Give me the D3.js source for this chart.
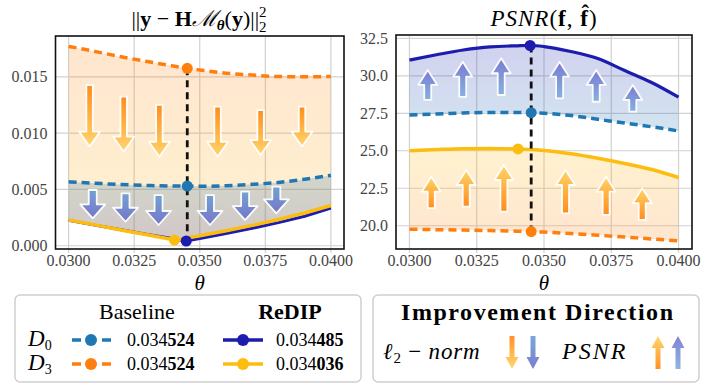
<!DOCTYPE html>
<html>
<head>
<meta charset="utf-8">
<script src="https://cdn.jsdelivr.net/npm/d3@7"></script>
<style>
  body { margin: 0; background: #fff; }
</style>
</head>
<body>
<div id="chart"></div>
<script>
// theta grid shared by every curve
const theta = [0.030, 0.031, 0.032, 0.033, 0.034, 0.035, 0.036, 0.037, 0.038, 0.039, 0.040];

// l2 residual norm
const l2BaseD0  = [0.00568, 0.00555, 0.00543, 0.00535, 0.00530, 0.00528, 0.00533, 0.00545, 0.00562, 0.00590, 0.00625];
const l2BaseD3  = [0.01770, 0.01725, 0.01678, 0.01635, 0.01595, 0.01560, 0.01532, 0.01515, 0.01502, 0.01500, 0.01502];
const l2RedipD0 = [0.00225, 0.00183, 0.00142, 0.00100, 0.00062, 0.00065, 0.00108, 0.00155, 0.00205, 0.00262, 0.00335];
const l2RedipD3 = [0.00228, 0.00185, 0.00140, 0.00098, 0.00053, 0.00088, 0.00133, 0.00181, 0.00233, 0.00291, 0.00357];

// PSNR
const psnrBaseD0  = [27.38, 27.45, 27.52, 27.56, 27.56, 27.50, 27.35, 27.10, 26.85, 26.60, 26.32];
const psnrBaseD3  = [19.77, 19.74, 19.71, 19.68, 19.64, 19.58, 19.48, 19.37, 19.25, 19.12, 18.99];
const psnrRedipD0 = [31.05, 31.40, 31.72, 31.93, 32.00, 31.95, 31.62, 31.15, 30.35, 29.55, 28.57];
const psnrRedipD3 = [25.00, 25.08, 25.14, 25.15, 25.12, 25.02, 24.80, 24.50, 24.15, 23.75, 23.22];

// selected theta per method: baseline D0, baseline D3, ReDIP D0, ReDIP D3
const bestTheta = [0.034524, 0.034524, 0.034485, 0.034036];
const bestL2    = [0.00530, 0.01575, 0.00042, 0.00050];
const bestPsnr  = [27.54, 19.61, 32.02, 25.12];

const thetaTicks = [0.0300, 0.0325, 0.0350, 0.0375, 0.0400];
const l2Ticks    = [0.000, 0.005, 0.010, 0.015];
const psnrTicks  = [20.0, 22.5, 25.0, 27.5, 30.0, 32.5];

// improvement arrows: [theta, tail, tip]
const l2ArrowsD3 = [[0.0308, 0.01427, 0.0088], [0.0321, 0.01323, 0.00835], [0.03346, 0.0125, 0.0079],
                    [0.03568, 0.01235, 0.0079], [0.03732, 0.01205, 0.00805], [0.0389, 0.01235, 0.0088]];
const l2ArrowsD0 = [[0.03092, 0.00495, 0.00243], [0.03217, 0.00465, 0.00213], [0.03343, 0.0045, 0.00184],
                    [0.03539, 0.0045, 0.00184], [0.03673, 0.0048, 0.00228], [0.03792, 0.00524, 0.00288]];
const psnrArrowsD0 = [[0.03068, 28.39, 30.39], [0.03198, 28.6, 30.94], [0.03341, 28.72, 31.17],
                      [0.03558, 28.5, 30.94], [0.03694, 28.27, 30.39], [0.0383, 27.61, 29.39]];
const psnrArrowsD3 = [[0.03081, 21.17, 23.27], [0.03211, 21.27, 23.72], [0.03351, 20.94, 24.05],
                      [0.0358, 20.83, 23.72], [0.03731, 20.72, 23.27], [0.03865, 20.39, 22.5]];

const cBaseD0 = "#1f77b4", cBaseD3 = "#ff7f0e", cRedipD0 = "#1c1cae", cRedipD3 = "#fdbd0f";
const serif = "'Liberation Serif', 'DejaVu Serif', serif";

const svg = d3.select("#chart").append("svg")
  .attr("width", 720).attr("height", 386)
  .attr("font-family", serif);
const defs = svg.append("defs");

function grad(id, top, bottom, op) {
  const g = defs.append("linearGradient").attr("id", id)
    .attr("x1", 0).attr("y1", 0).attr("x2", 0).attr("y2", 1);
  g.append("stop").attr("offset", "0%").attr("stop-color", top).attr("stop-opacity", op);
  g.append("stop").attr("offset", "100%").attr("stop-color", bottom).attr("stop-opacity", op);
}
grad("fillL2D3", cBaseD3, cRedipD3, 0.2);
grad("fillL2D0", cBaseD0, cRedipD0, 0.2);
grad("fillPsD0", cRedipD0, cBaseD0, 0.2);
grad("fillPsD3", cRedipD3, cBaseD3, 0.2);
grad("arrOrDown", "#ff860a", "#ffd466", 1);
grad("arrBlDown", "#6c9ed2", "#6f6fcc", 1);
grad("arrBlUp", "#7474d0", "#80aede", 1);
grad("arrOrUp", "#ffd25e", "#ff850c", 1);

function pts(vals, i, best) {
  return theta.map((t, k) => [t, vals[k]]).concat([[bestTheta[i], best[i]]])
    .sort((a, b) => a[0] - b[0]);
}

function arrowPath(x, y0, y1, sw, hw, hl) {
  const s = y1 > y0 ? 1 : -1, yh = y1 - s * hl;
  return `M${x - sw / 2},${y0}L${x + sw / 2},${y0}L${x + sw / 2},${yh}L${x + hw / 2},${yh}` +
         `L${x},${y1}L${x - hw / 2},${yh}L${x - sw / 2},${yh}Z`;
}

function panel(cfg) {
  const x = d3.scaleLinear().domain([0.0295, 0.0405]).range(cfg.xr);
  const y = d3.scaleLinear().domain(cfg.yd).range([249, cfg.top]);
  const g = svg.append("g");

  // grid
  g.selectAll(".gx").data(thetaTicks).enter().append("line")
    .attr("x1", d => x(d)).attr("x2", d => x(d)).attr("y1", cfg.top).attr("y2", 253)
    .attr("stroke", "#d2d2d2").attr("stroke-width", 1.2);
  g.selectAll(".gy").data(cfg.ticks).enter().append("line")
    .attr("x1", cfg.xr[0]).attr("x2", cfg.xr[1]).attr("y1", d => y(d)).attr("y2", d => y(d))
    .attr("stroke", "#d2d2d2").attr("stroke-width", 1.2);

  // tick labels
  g.selectAll(".tx").data(thetaTicks).enter().append("text")
    .attr("x", d => x(d)).attr("y", 266).attr("text-anchor", "middle")
    .attr("font-size", 16).attr("fill", "#444").text(d => d.toFixed(4));
  g.selectAll(".ty").data(cfg.ticks).enter().append("text")
    .attr("x", cfg.xr[0] - 8).attr("y", d => y(d)).attr("dy", "0.35em").attr("text-anchor", "end")
    .attr("font-size", 16).attr("fill", "#444").text(cfg.fmt);

  const lin = d3.line().x(d => x(d[0])).y(d => y(d[1]));
  const smooth = d3.line().x(d => x(d[0])).y(d => y(d[1])).curve(d3.curveMonotoneX);

  // shaded improvement bands
  cfg.bands.forEach(b => {
    g.append("path").attr("d", lin(b.a.concat(b.b.slice().reverse())) + "Z")
      .attr("fill", `url(#${b.fill})`);
  });

  // arrows
  cfg.arrows.forEach(a => {
    g.selectAll(null).data(a.data).enter().append("path")
      .attr("d", d => arrowPath(x(d[0]), y(d[1]), y(d[2]), a.sw, a.hw, a.hl))
      .attr("fill", `url(#${a.fill})`).attr("stroke", "#fff").attr("stroke-width", 1.8)
      .attr("stroke-linejoin", "round").attr("opacity", 0.92);
  });

  // curves
  cfg.lines.forEach(l => {
    g.append("path").attr("d", (l.linear ? lin : smooth)(l.data))
      .attr("fill", "none").attr("stroke", l.color).attr("stroke-width", l.w)
      .attr("stroke-dasharray", l.dash || null);
  });

  // vertical marker at the baseline theta
  const vs = cfg.best;
  g.append("line")
    .attr("x1", x(bestTheta[0])).attr("x2", x(bestTheta[0]))
    .attr("y1", y(d3.max(vs))).attr("y2", y(d3.min(vs)))
    .attr("stroke", "#111").attr("stroke-width", 2.8).attr("stroke-dasharray", "7,5");

  const dotColors = [cBaseD0, cBaseD3, cRedipD0, cRedipD3];
  g.selectAll(".dot").data(vs).enter().append("circle")
    .attr("cx", (d, i) => x(bestTheta[i])).attr("cy", d => y(d)).attr("r", 5.5)
    .attr("fill", (d, i) => dotColors[i]);

  // frame
  g.append("rect").attr("x", cfg.xr[0]).attr("y", cfg.top)
    .attr("width", cfg.xr[1] - cfg.xr[0]).attr("height", 249 - cfg.top)
    .attr("fill", "none").attr("stroke", "#111").attr("stroke-width", 1.6);

  // x label
  g.append("text").attr("x", (cfg.xr[0] + cfg.xr[1]) / 2).attr("y", 290)
    .attr("text-anchor", "middle").attr("font-size", 21).attr("font-style", "italic").text("θ");
  return g;
}

// ---- left: l2 norm
const l2D0b = pts(l2BaseD0, 0, bestL2), l2D3b = pts(l2BaseD3, 1, bestL2);
const l2D0r = pts(l2RedipD0, 2, bestL2), l2D3r = pts(l2RedipD3, 3, bestL2);
panel({
  xr: [55.5, 344], top: 36, yd: [-0.00029, 0.01862], ticks: l2Ticks, fmt: d => d.toFixed(3),
  bands: [{a: l2D3b, b: l2D3r, fill: "fillL2D3"}, {a: l2D0b, b: l2D0r, fill: "fillL2D0"}],
  arrows: [{data: l2ArrowsD3, fill: "arrOrDown", sw: 6.5, hw: 21, hl: 15},
           {data: l2ArrowsD0, fill: "arrBlDown", sw: 8, hw: 25, hl: 14}],
  lines: [{data: l2D3b, color: cBaseD3, w: 3.5, dash: "8,5"},
          {data: l2D0b, color: cBaseD0, w: 3.5, dash: "8,5"},
          {data: l2D0r, color: cRedipD0, w: 3, linear: true},
          {data: l2D3r, color: cRedipD3, w: 3.5, linear: true}],
  best: bestL2
});

// ---- right: PSNR
const psD0b = pts(psnrBaseD0, 0, bestPsnr), psD3b = pts(psnrBaseD3, 1, bestPsnr);
const psD0r = pts(psnrRedipD0, 2, bestPsnr), psD3r = pts(psnrRedipD3, 3, bestPsnr);
panel({
  xr: [396, 692], top: 35, yd: [18.45, 32.72], ticks: psnrTicks, fmt: d => d.toFixed(1),
  bands: [{a: psD0r, b: psD0b, fill: "fillPsD0"}, {a: psD3r, b: psD3b, fill: "fillPsD3"}],
  arrows: [{data: psnrArrowsD0, fill: "arrBlUp", sw: 7, hw: 19, hl: 15},
           {data: psnrArrowsD3, fill: "arrOrUp", sw: 7, hw: 19, hl: 15}],
  lines: [{data: psD0b, color: cBaseD0, w: 3.5, dash: "8,5"},
          {data: psD3b, color: cBaseD3, w: 3.5, dash: "8,5"},
          {data: psD0r, color: cRedipD0, w: 3.2},
          {data: psD3r, color: cRedipD3, w: 3.5}],
  best: bestPsnr
});

// ---- titles
const t1 = svg.append("text").attr("x", 199).attr("y", 26).attr("text-anchor", "middle").attr("font-size", 22);
t1.append("tspan").text("||");
t1.append("tspan").attr("font-weight", "bold").text("y");
t1.append("tspan").text(" − ");
t1.append("tspan").attr("font-weight", "bold").text("H");
t1.append("tspan").attr("font-family", "DejaVu Serif").attr("font-style", "italic").text("ℳ");
t1.append("tspan").attr("font-size", 15).attr("font-weight", "bold").attr("font-style", "italic").attr("dy", 4).text("θ");
t1.append("tspan").attr("dy", -4).text("(");
t1.append("tspan").attr("font-weight", "bold").text("y");
t1.append("tspan").text(")||");
t1.append("tspan").attr("font-size", 15).attr("dy", -9).text("2");
t1.append("tspan").attr("font-size", 15).attr("dx", -7.5).attr("dy", 15).text("2");

const t2 = svg.append("text").attr("x", 544).attr("y", 26).attr("text-anchor", "middle").attr("font-size", 23)
  .attr("letter-spacing", 1);
t2.append("tspan").attr("font-style", "italic").text("PSNR");
t2.append("tspan").text("(");
t2.append("tspan").attr("font-weight", "bold").text("f");
t2.append("tspan").text(", ");
t2.append("tspan").attr("font-weight", "bold").text("f\u0302");
t2.append("tspan").text(")");

// ---- legend 1: methods
const lg = svg.append("g");
lg.append("rect").attr("x", 15).attr("y", 295).attr("width", 346).attr("height", 87)
  .attr("rx", 5).attr("fill", "#fff").attr("stroke", "#cfcfcf").attr("stroke-width", 1.5);
lg.append("text").attr("x", 137).attr("y", 319).attr("text-anchor", "middle").attr("font-size", 22).text("Baseline");
lg.append("text").attr("x", 290).attr("y", 319).attr("text-anchor", "middle").attr("font-size", 22)
  .attr("font-weight", "bold").text("ReDIP");

const legRows = [
  {lab: "0", y: 340, base: cBaseD0, redip: cRedipD0, bv: bestTheta[0], rv: bestTheta[2]},
  {lab: "3", y: 364, base: cBaseD3, redip: cRedipD3, bv: bestTheta[1], rv: bestTheta[3]}
];
function valText(sel, v, x, y) {
  const s = v.toFixed(6);
  const t = sel.append("text").attr("x", x).attr("y", y).attr("dy", "0.35em").attr("font-size", 18);
  t.append("tspan").text(s.slice(0, 5));
  t.append("tspan").attr("font-weight", "bold").text(s.slice(5));
}
legRows.forEach(r => {
  const t = lg.append("text").attr("x", 28).attr("y", r.y + 6).attr("font-size", 23).attr("font-style", "italic");
  t.append("tspan").text("D");
  t.append("tspan").attr("font-size", 14).attr("font-style", "normal").attr("dy", 4).text(r.lab);
  lg.append("line").attr("x1", 72).attr("x2", 112).attr("y1", r.y).attr("y2", r.y)
    .attr("stroke", r.base).attr("stroke-width", 3.5).attr("stroke-dasharray", "9,21");
  lg.append("circle").attr("cx", 91).attr("cy", r.y).attr("r", 6).attr("fill", r.base);
  valText(lg, r.bv, 127, r.y);
  lg.append("line").attr("x1", 223).attr("x2", 263).attr("y1", r.y).attr("y2", r.y)
    .attr("stroke", r.redip).attr("stroke-width", 3.5);
  lg.append("circle").attr("cx", 243).attr("cy", r.y).attr("r", 6).attr("fill", r.redip);
  valText(lg, r.rv, 276, r.y);
});

// ---- legend 2: improvement direction
const lg2 = svg.append("g");
lg2.append("rect").attr("x", 373).attr("y", 295).attr("width", 326).attr("height", 87)
  .attr("rx", 5).attr("fill", "#fff").attr("stroke", "#cfcfcf").attr("stroke-width", 1.5);
lg2.append("text").attr("x", 537).attr("y", 320).attr("text-anchor", "middle").attr("font-size", 24)
  .attr("font-weight", "bold").attr("textLength", 272).text("Improvement Direction");
const nt = lg2.append("text").attr("x", 383).attr("y", 359).attr("font-size", 23).attr("font-style", "italic")
  .attr("letter-spacing", 0.8);
nt.append("tspan").text("ℓ");
nt.append("tspan").attr("font-size", 15).attr("font-style", "normal").attr("dy", 4).text("2");
nt.append("tspan").attr("dy", -4).attr("font-style", "normal").text(" − ");
nt.append("tspan").text("norm");
lg2.append("text").attr("x", 562).attr("y", 359).attr("font-size", 24).attr("font-style", "italic")
  .attr("letter-spacing", 2).text("PSNR");
const legArrows = [
  {x: 512, y0: 336, y1: 369, fill: "arrOrDown"}, {x: 533, y0: 336, y1: 369, fill: "arrBlDown"},
  {x: 658, y0: 369, y1: 336, fill: "arrOrUp"}, {x: 678, y0: 369, y1: 336, fill: "arrBlUp"}
];
lg2.selectAll(null).data(legArrows).enter().append("path")
  .attr("d", d => arrowPath(d.x, d.y0, d.y1, 5, 13, 12))
  .attr("fill", d => `url(#${d.fill})`).attr("opacity", 0.9);
</script>
</body>
</html>
